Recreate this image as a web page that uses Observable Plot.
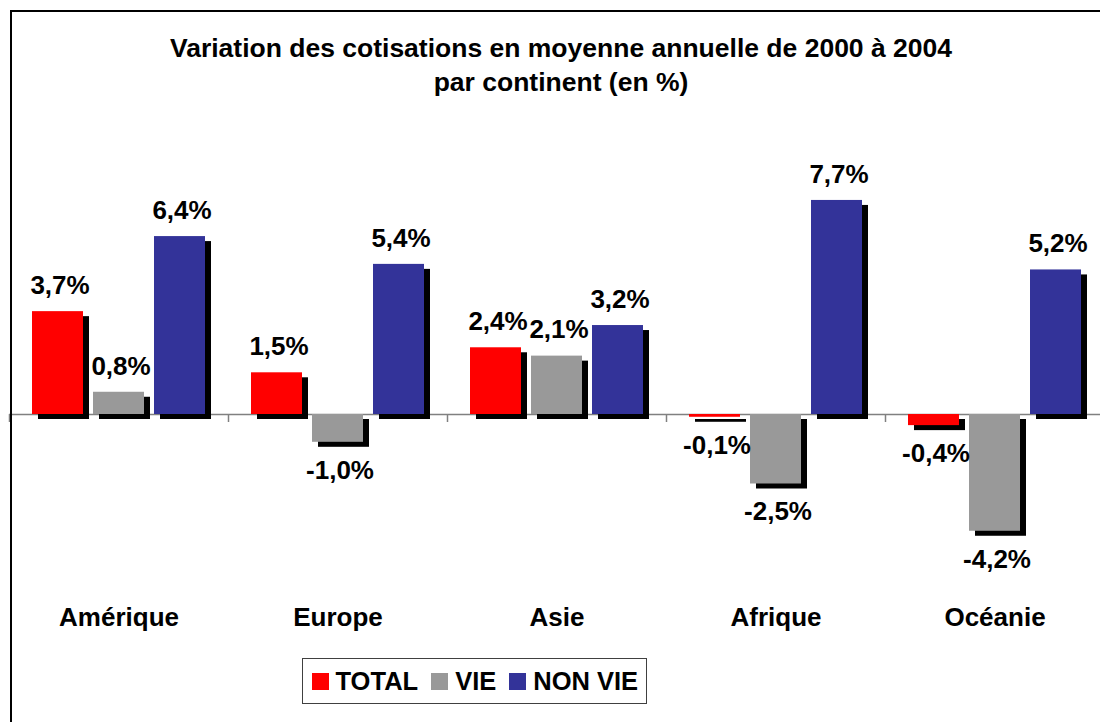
<!DOCTYPE html>
<html><head><meta charset="utf-8">
<script src="https://cdn.jsdelivr.net/npm/d3@7"></script>
<script src="https://cdn.jsdelivr.net/npm/@observablehq/plot@0.6"></script>
<style>
html,body{margin:0;padding:0;background:#fff;overflow:hidden;}
#wrap{position:relative;width:1100px;height:722px;overflow:hidden;font-family:"Liberation Sans",Arial,Helvetica,sans-serif;font-weight:bold;color:#000;}
#frame{position:absolute;left:10px;top:10px;width:1200px;height:800px;border-top:2px solid #000;border-left:2px solid #000;pointer-events:none;}
#title{position:relative;height:110px;box-sizing:border-box;padding-top:31px;margin-left:10px;width:1102px;text-align:center;font-size:26.5px;line-height:34px;}
#chart svg{display:block;}
#legend{position:absolute;left:302px;top:658px;width:345px;height:46px;box-sizing:border-box;border:1.5px solid #404040;display:flex;align-items:center;padding-left:8.5px;font-size:25.5px;background:#fff;white-space:nowrap;}
.item{display:flex;align-items:center;margin-right:13px;flex-shrink:0;white-space:nowrap;}
.sw{display:inline-block;width:17px;height:17px;margin-right:7px;flex-shrink:0;}
</style></head>
<body>
<div id="wrap">
  <div id="frame"></div>
  <div id="title">Variation des cotisations en moyenne annuelle de 2000 à 2004<br>par continent (en %)</div>
  <div id="chart"></div>
  <div id="legend"></div>
</div>
<script>
const continents = ["Amérique", "Europe", "Asie", "Afrique", "Océanie"];
const series = ["TOTAL", "VIE", "NON VIE"];
const totalValues = [3.7, 1.5, 2.4, -0.1, -0.4];
const vieValues = [0.8, -1.0, 2.1, -2.5, -4.2];
const nonVieValues = [6.4, 5.4, 3.2, 7.7, 5.2];
const seriesColors = ["#ff0000", "#999999", "#333399"];

const rows = [];
continents.forEach((c, i) => {
  [totalValues, vieValues, nonVieValues].forEach((arr, j) => {
    rows.push({continent: c, series: series[j], value: arr[i]});
  });
});

const locale = d3.formatLocale({decimal: ",", thousands: " ", grouping: [3], currency: ["", " €"], minus: "-"});
const f1 = locale.format(".1f");
const label = d => f1(d.value) + "%";

const W = 1100, H = 540;
const pxPerUnit = 27.8, zeroY = 304;
const yDomain = [-6, 8];
const marginTop = zeroY - yDomain[1] * pxPerUnit;
const marginBottom = H - (zeroY - yDomain[0] * pxPerUnit);
const marginLeft = 9, marginRight = -4;
const facetWidth = (W - marginLeft - marginRight) / continents.length;

const chart = Plot.plot({
  width: W,
  height: H,
  marginLeft, marginRight, marginTop, marginBottom,
  facet: {data: rows, x: "continent"},
  fx: {domain: continents, padding: 0, axis: "bottom", tickSize: 0, tickPadding: 26.7, label: null},
  x: {domain: series, paddingInner: 0.164, paddingOuter: 0.377, axis: null},
  y: {domain: yDomain, axis: null},
  color: {domain: series, range: seriesColors},
  style: {fontFamily: '"Liberation Sans", Arial, sans-serif', fontSize: "26px", fontWeight: "bold", color: "#000", background: "transparent", overflow: "visible"},
  marks: [
    Plot.ruleY([0], {stroke: "#808080", strokeWidth: 1.5}),
    Plot.ruleX([0], {x: null, y1: 0, y2: -8 / pxPerUnit, stroke: "#808080", strokeWidth: 1.5, dx: -facetWidth / 2}),
    Plot.barY(rows, {x: "series", y1: 0, y2: "value", fill: "#000", dx: 6, dy: 5}),
    Plot.barY(rows, {x: "series", y1: 0, y2: "value", fill: "series"}),
    Plot.text(rows, {filter: d => d.value >= 0, x: "series", y: "value", text: label, dy: -26, dx: 2, fontSize: 26, fontWeight: "bold", fill: "#000"}),
    Plot.text(rows, {filter: d => d.value < 0, x: "series", y: "value", text: label, dy: 28, dx: 2, fontSize: 26, fontWeight: "bold", fill: "#000"})
  ]
});
document.getElementById("chart").appendChild(chart);

const legend = document.getElementById("legend");
series.forEach((s, i) => {
  const item = document.createElement("div");
  item.className = "item";
  const sw = document.createElement("span");
  sw.className = "sw";
  sw.style.background = seriesColors[i];
  item.appendChild(sw);
  item.appendChild(document.createTextNode(s));
  legend.appendChild(item);
});
</script>
</body></html>
